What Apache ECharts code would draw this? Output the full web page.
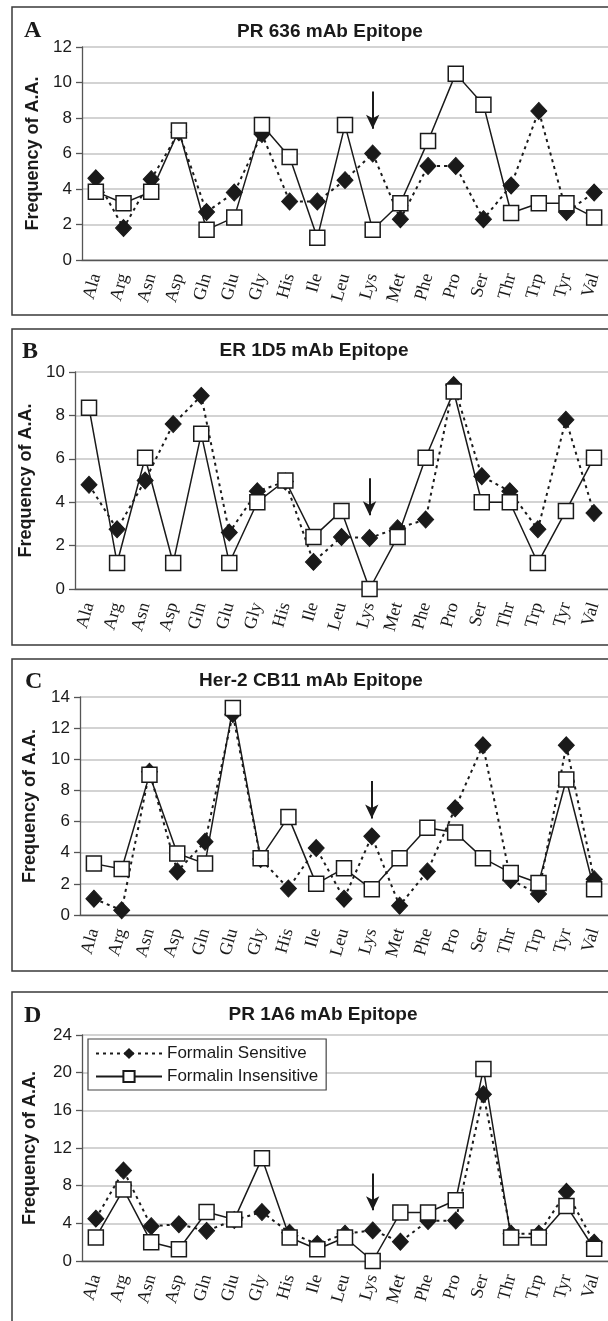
<!DOCTYPE html>
<html>
<head>
<meta charset="utf-8">
<script src="https://cdn.jsdelivr.net/npm/echarts@6/dist/echarts.min.js"></script>
<style>
  html, body { margin: 0; padding: 0; background: #fff; }
  #chart { width: 608px; height: 1321px; }
</style>
</head>
<body>
<div id="chart"></div>
<script>
// amino acids along the x axis
const aminoAcids = ['Ala', 'Arg', 'Asn', 'Asp', 'Gln', 'Glu', 'Gly', 'His', 'Ile', 'Leu',
  'Lys', 'Met', 'Phe', 'Pro', 'Ser', 'Thr', 'Trp', 'Tyr', 'Val'];

// A - PR 636
const pr636Sensitive = [4.6, 1.8, 4.55, 7.2, 2.7, 3.8, 7.1, 3.3, 3.3, 4.5, 6.0, 2.3, 5.3, 5.3, 2.3, 4.2, 8.4, 2.7, 3.8];
const pr636Insensitive = [3.85, 3.2, 3.85, 7.3, 1.7, 2.4, 7.6, 5.8, 1.25, 7.6, 1.7, 3.2, 6.7, 10.5, 8.75, 2.65, 3.2, 3.2, 2.4];
// B - ER 1D5
const er1d5Sensitive = [4.8, 2.75, 5.0, 7.6, 8.9, 2.6, 4.5, 4.95, 1.25, 2.4, 2.35, 2.8, 3.2, 9.4, 5.2, 4.5, 2.75, 7.8, 3.5];
const er1d5Insensitive = [8.35, 1.2, 6.05, 1.2, 7.15, 1.2, 4.0, 5.0, 2.4, 3.6, 0, 2.4, 6.05, 9.1, 4.0, 4.0, 1.2, 3.6, 6.05];
// C - Her-2 CB11
const her2Sensitive = [1.05, 0.3, 9.2, 2.8, 4.7, 12.9, 3.6, 1.7, 4.3, 1.05, 5.05, 0.6, 2.8, 6.85, 10.9, 2.25, 1.35, 10.9, 2.3];
const her2Insensitive = [3.3, 2.95, 9.0, 3.95, 3.3, 13.3, 3.65, 6.3, 2.0, 3.0, 1.65, 3.65, 5.6, 5.3, 3.65, 2.7, 2.05, 8.7, 1.65];
// D - PR 1A6
const pr1a6Sensitive = [4.5, 9.6, 3.7, 3.9, 3.2, 4.35, 5.2, 3.0, 1.8, 2.9, 3.25, 2.05, 4.25, 4.3, 17.7, 2.9, 2.9, 7.35, 1.95];
const pr1a6Insensitive = [2.5, 7.6, 2.0, 1.25, 5.2, 4.4, 10.9, 2.5, 1.25, 2.5, 0, 5.15, 5.15, 6.45, 20.4, 2.5, 2.5, 5.85, 1.3];

const panelTitles = ['PR 636 mAb Epitope', 'ER 1D5 mAb Epitope', 'Her-2 CB11 mAb Epitope', 'PR 1A6 mAb Epitope'];
const panelLetters = ['A', 'B', 'C', 'D'];
const yMax = [12, 10, 14, 24];
const yStep = [2, 2, 2, 4];
// arrow over Lys: start and tip values
const arrowFrom = [9.5, 5.1, 8.6, 9.3];
const arrowTo = [7.4, 3.4, 6.2, 5.4];
const seriesNames = ['Formalin Sensitive', 'Formalin Insensitive'];

const sensitiveData = [pr636Sensitive, er1d5Sensitive, her2Sensitive, pr1a6Sensitive];
const insensitiveData = [pr636Insensitive, er1d5Insensitive, her2Insensitive, pr1a6Insensitive];

// layout of each panel (pixels)
const layout = [
  { left: 82, top: 47, width: 527, height: 213, nameGap: 40, boxTop: 7, boxBottom: 315, titleX: 325, titleY: 17, letterX: 19, letterY: 14 },
  { left: 75, top: 372, width: 542, height: 217, nameGap: 36, boxTop: 329, boxBottom: 645, titleX: 309, titleY: 336, letterX: 17, letterY: 335 },
  { left: 80, top: 697, width: 536, height: 218, nameGap: 41, boxTop: 659, boxBottom: 971, titleX: 306, titleY: 666, letterX: 20, letterY: 665 },
  { left: 82, top: 1035, width: 536, height: 226, nameGap: 43, boxTop: 992, boxBottom: 1360, titleX: 318, titleY: 1000, letterX: 19, letterY: 999 }
];

const ink = '#1a1a1a';

let grid = [], xAxis = [], yAxis = [], series = [], title = [], graphic = [];

layout.forEach((p, i) => {
  grid.push({ left: p.left, top: p.top, width: p.width, height: p.height });

  title.push({
    text: panelTitles[i], left: p.titleX, top: p.titleY, textAlign: 'center',
    textStyle: { fontFamily: 'Liberation Sans, Arial', fontWeight: 'bold', fontSize: 19, color: ink }
  });
  title.push({
    text: panelLetters[i], left: p.letterX, top: p.letterY,
    textStyle: { fontFamily: 'Liberation Serif, Times New Roman', fontWeight: 'bold', fontSize: 24, color: ink }
  });

  graphic.push({
    type: 'rect', silent: true, z: -1,
    shape: { x: 12, y: p.boxTop, width: 640, height: p.boxBottom - p.boxTop },
    style: { fill: 'none', stroke: '#3a3a3a', lineWidth: 1.5 }
  });

  xAxis.push({
    type: 'category', gridIndex: i, data: aminoAcids, boundaryGap: true,
    axisLine: { lineStyle: { color: '#555', width: 1.3 } },
    axisTick: { length: 5, lineStyle: { color: '#555', width: 1.3 } },
    axisLabel: {
      rotate: 74, interval: 0, margin: 14, color: ink,
      fontFamily: 'Liberation Serif, Times New Roman', fontSize: 18
    },
    splitLine: { show: false }
  });

  yAxis.push({
    type: 'value', gridIndex: i, min: 0, max: yMax[i], interval: yStep[i],
    name: 'Frequency of A.A.', nameLocation: 'middle', nameGap: p.nameGap,
    nameTextStyle: { fontFamily: 'Liberation Sans, Arial', fontWeight: 'bold', fontSize: 18, color: ink },
    axisLine: { show: true, lineStyle: { color: '#555', width: 1.3 } },
    axisTick: { show: true, length: 6, lineStyle: { color: '#555', width: 1.3 } },
    axisLabel: { margin: 10, color: ink, fontFamily: 'Liberation Sans, Arial', fontSize: 17 },
    splitLine: { lineStyle: { color: '#c4c4c4', width: 1.5 } }
  });

  series.push({
    name: seriesNames[0], type: 'line', xAxisIndex: i, yAxisIndex: i,
    data: sensitiveData[i], z: 2,
    symbol: 'diamond', symbolSize: [16, 17],
    itemStyle: { color: ink, borderColor: ink },
    lineStyle: { color: ink, width: 2, type: [3, 4] },
    markLine: {
      silent: true, symbol: ['none', 'arrow'], symbolSize: [10, 14],
      label: { show: false },
      lineStyle: { color: ink, width: 2, type: 'solid' },
      data: [[{ coord: ['Lys', arrowFrom[i]] }, { coord: ['Lys', arrowTo[i]] }]]
    }
  });

  series.push({
    name: seriesNames[1], type: 'line', xAxisIndex: i, yAxisIndex: i,
    data: insensitiveData[i], z: 3,
    symbol: 'rect', symbolSize: 15,
    itemStyle: { color: '#fff', borderColor: ink, borderWidth: 1.5 },
    lineStyle: { color: ink, width: 1.5, type: 'solid' }
  });
});

const chart = echarts.init(document.getElementById('chart'));
chart.setOption({
  animation: false,
  backgroundColor: '#fff',
  title: title,
  grid: grid,
  xAxis: xAxis,
  yAxis: yAxis,
  series: series,
  graphic: graphic,
  legend: {
    data: seriesNames, orient: 'vertical', left: 88, top: 1039,
    backgroundColor: '#fff', borderColor: '#444', borderWidth: 1.2,
    padding: [6, 8, 5, 7], itemGap: 6, itemWidth: 66, itemHeight: 14,
    textStyle: { fontFamily: 'Liberation Sans, Arial', fontSize: 17, color: ink }
  }
});
</script>
</body>
</html>
